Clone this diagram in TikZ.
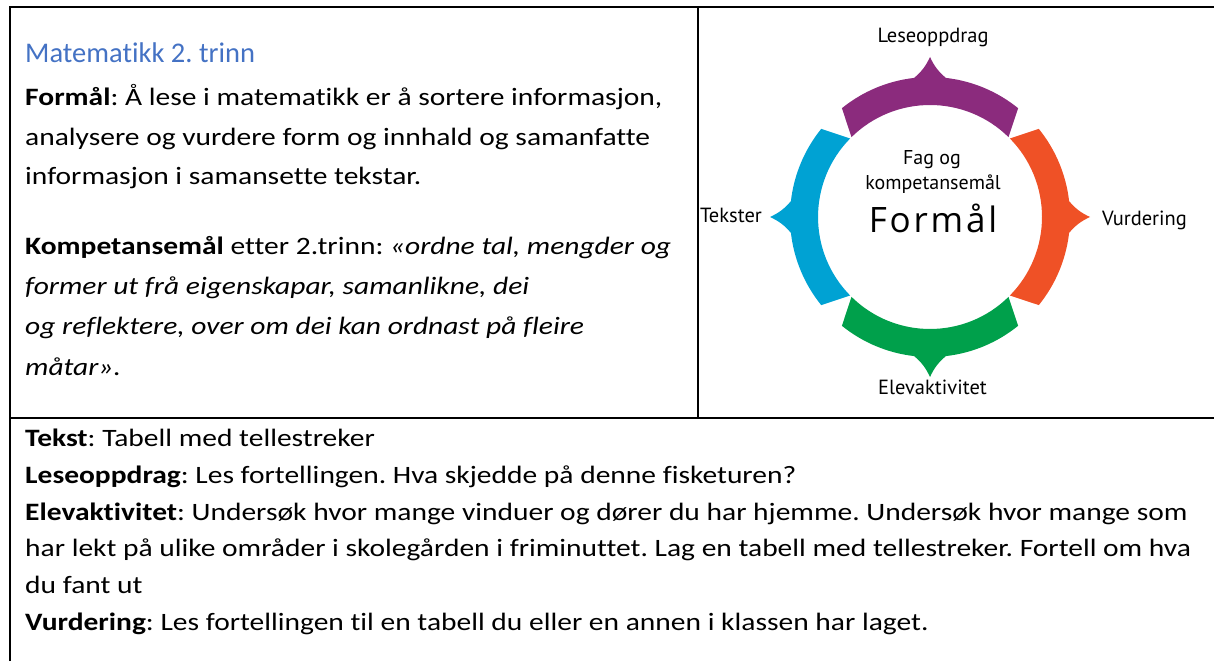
\documentclass[tikz,border=0pt]{standalone}
\usepackage{fontspec}
\setmainfont{Carlito}[FakeStretch=1.18,Ligatures=NoCommon]
\newfontfamily\titlefont{Carlito}[Ligatures=NoCommon]
\newfontfamily\ringfont{PT Sans}
\newfontfamily\bigfont[LetterSpace=8]{Open Sans}
\usetikzlibrary{positioning}

\definecolor{titleblue}{HTML}{4472C4}
\definecolor{ringpurple}{HTML}{8B2B7D}
\definecolor{ringblue}{HTML}{00A2D3}
\definecolor{ringorange}{HTML}{EF5126}
\definecolor{ringgreen}{HTML}{00A04B}

\begin{document}
\frenchspacing
\begin{tikzpicture}
                    [x=1pt,y=1pt,
                     body/.style={anchor=base west,inner sep=0,font=\fontsize{25}{30}\selectfont},
                     tag/.style={anchor=base,inner sep=0,text=black,font=\ringfont\fontsize{20.5}{24}\selectfont},
                     frame/.style={line width=2pt}]

                \useasboundingbox (0,0) rectangle (1214,661);

                % table
                \draw[frame] (10,0) -- (10,653.5) -- (1214,653.5);
                \draw[frame] (10,242.5) -- (1214,242.5);
                \draw[frame] (697.5,653.5) -- (697.5,242.5);

                % left cell
                \node[body,text=titleblue,font=\titlefont\fontsize{28.5}{32}\selectfont] (title) at (25,598) {Matematikk 2. trinn};
                \node[body] (formal1) at (25,555) {\textbf{Formål}: Å lese i matematikk er å sortere informasjon,};
                \node[body] (formal2) at (25,515) {analysere og vurdere form og innhald og samanfatte};
                \node[body] (formal3) at (25,476) {informasjon i samansette tekstar.};
                \node[body] (komp1) at (25,406) {\textbf{Kompetansemål} etter 2.trinn: \textit{«ordne tal, mengder og}};
                \node[body] (komp2) at (25,366) {\textit{former ut frå eigenskapar, samanlikne, dei}};
                \node[body] (komp3) at (25,326) {\textit{og reflektere, over om dei kan ordnast på fleire}};
                \node[body] (komp4) at (25,285) {\textit{måtar».}};

                % ring
                \begin{scope}[shift={(930,444)}]
                    \foreach \a/\col in {90/ringpurple,180/ringblue,270/ringgreen,0/ringorange}
                        \fill[\col] ({\a+39}:140) arc[start angle=\a+39,end angle=\a+6.5,radius=140]
                            to[bend right=12] (\a:160) to[bend right=12] ({\a-6.5}:140)
                            arc[start angle=\a-6.5,end angle=\a-39,radius=140]
                            -- ({\a-44.5}:112) arc[start angle=\a-44.5,end angle=\a+44.5,radius=112] -- cycle;
                \end{scope}

                \node[tag,font=\ringfont\fontsize{20}{24}\selectfont] (fag) at (932,496) {Fag og};
                \node[tag,font=\ringfont\fontsize{20}{24}\selectfont] (kompmaal) at (933,471) {kompetansemål};
                \node[anchor=base,inner sep=0,font=\bigfont\fontsize{35}{40}\selectfont] (formaal) at (933,428) {Formål};

                \node[tag] (lese) at (933,618) {Leseoppdrag};
                \node[tag] (tekster) at (731,438) {Tekster};
                \node[tag] (vurd) at (1144.5,435) {Vurdering};
                \node[tag] (elev) at (932.5,266) {Elevaktivitet};

                % bottom cell
                \node[body] (tekst) at (25,214) {\textbf{Tekst}: Tabell med tellestreker};
                \node[body] (oppdrag) at (25,177.4) {\textbf{Leseoppdrag}: Les fortellingen. Hva skjedde på denne fisketuren?};
                \node[body] (aktiv1) at (25,140.8) {\textbf{Elevaktivitet}: Undersøk hvor mange vinduer og dører du har hjemme. Undersøk hvor mange som};
                \node[body] (aktiv2) at (25,104.2) {har lekt på ulike områder i skolegården i friminuttet. Lag en tabell med tellestreker. Fortell om hva};
                \node[body] (aktiv3) at (25,67.6) {du fant ut};
                \node[body] (vurdering) at (25,31) {\textbf{Vurdering}: Les fortellingen til en tabell du eller en annen i klassen har laget.};

                \end{tikzpicture}
\end{document}
